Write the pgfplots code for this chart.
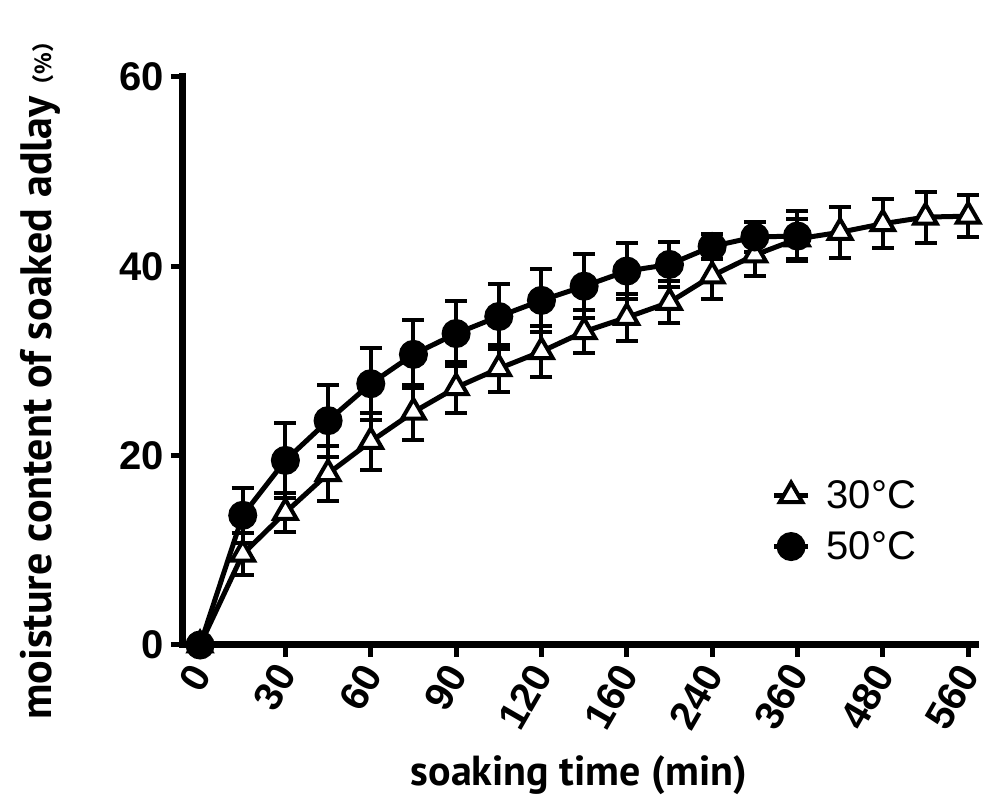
\documentclass[border=0pt]{standalone}
\usepackage{pgfplots}
\pgfplotsset{compat=1.18}
\usepackage{pgfplotstable}
\usepackage{fontspec}
\setmainfont{Liberation Sans}
\newfontfamily\labfont{PT Sans}
\newfontfamily\cjk{Noto Sans CJK SC}

\pgfplotstableread{
x y e
0 0 0
0.5 9.6 2.2
1 14.0 2.1
1.5 18.1 2.9
2 21.5 3.0
2.5 24.6 2.9
3 27.2 2.7
3.5 29.2 2.5
4 31.0 2.7
4.5 33.1 2.3
5 34.6 2.5
5.5 36.2 2.2
6 39.0 2.5
6.5 41.2 2.2
7 42.9 2.1
7.5 43.6 2.7
8 44.5 2.6
8.5 45.2 2.7
9 45.3 2.2
}\tthirty

\pgfplotstableread{
x y e
0 0 0
0.5 13.7 2.9
1 19.5 4.0
1.5 23.7 3.8
2 27.6 3.8
2.5 30.7 3.6
3 32.9 3.4
3.5 34.7 3.4
4 36.4 3.3
4.5 37.9 3.4
5 39.5 3.0
5.5 40.2 2.4
6 42.1 1.3
6.5 43.1 1.6
7 43.2 2.6
}\tfifty

\begin{document}
\begin{tikzpicture}
\begin{axis}[
  scale only axis,
  width=396pt, height=284pt,
  xmin=-0.2, xmax=9.08,
  ymin=0, ymax=60,
  axis lines=left,
  axis line style={-, line width=3.5pt, line cap=rect},
  clip=false,
  xtick={0,1,2,3,4,5,6,7,8,9},
  xticklabels={0,30,60,90,120,160,240,360,480,560},
  ytick={0,20,40,60},
  tick style={line width=2.5pt, black},
  major tick length=6pt,
  tick align=outside,
  /pgf/number format/assume math mode=true,
  ticklabel style={font=\fontsize{20}{20}\selectfont\bfseries},
  xticklabel style={rotate=60, anchor=east, yshift=-3pt, xshift=-1pt},
  every axis x label/.style={at={(axis description cs:0.5,-0.229)}, anchor=center},
  every axis y label/.style={at={(axis description cs:-0.1806,0.475)}, rotate=90, anchor=center},
  xlabel={\labfont\bfseries\fontsize{21}{21}\selectfont soaking time (min)},
  ylabel={\labfont\bfseries\fontsize{22}{22}\selectfont moisture content of soaked adlay{\cjk\fontsize{11}{11}\selectfont （\%）}},
  legend style={at={(rel axis cs:0.735,0.305)}, anchor=north west, draw=none, fill=none,
    font=\fontsize{20}{20}\selectfont, row sep=6pt,
    /tikz/every odd column/.append style={column sep=6pt}},
  legend cell align=left,
]
\addplot[black, line width=2.5pt, mark=triangle*, mark size=6.5pt,
  mark options={fill=white, line width=2pt, solid},
  error bars/.cd, y dir=both, y explicit,
  error bar style={line width=2pt},
  error mark options={rotate=90, mark size=5.5pt, line width=2pt}]
  table[x=x, y=y, y error=e]{\tthirty};
\addlegendentry{30°C}
\addplot[black, line width=2.5pt, mark=*, mark size=6pt,
  mark options={fill=black, solid},
  error bars/.cd, y dir=both, y explicit,
  error bar style={line width=2pt},
  error mark options={rotate=90, mark size=5.5pt, line width=2pt}]
  table[x=x, y=y, y error=e]{\tfifty};
\addlegendentry{50°C}
\coordinate (O) at (rel axis cs:0,0);
\end{axis}
\pgfresetboundingbox
\path[use as bounding box] ([shift={(-91.5pt,-78.5pt)}]O) rectangle ([shift={(401pt,322.5pt)}]O);
\end{tikzpicture}
\end{document}
